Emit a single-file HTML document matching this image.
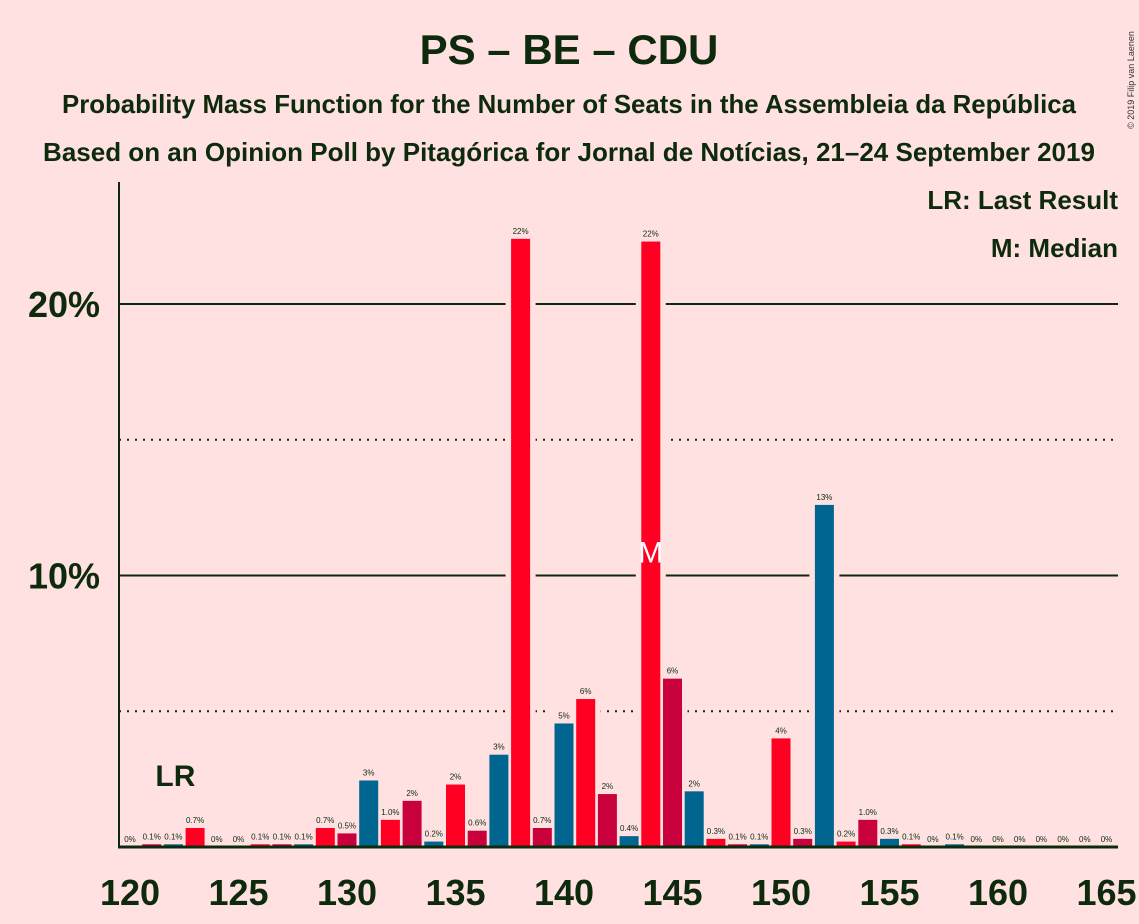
<!DOCTYPE html>
<html><head><meta charset="utf-8"><style>
body{margin:0;background:#FFE1E1;}
svg{display:block;font-family:"Liberation Sans",sans-serif;}
</style></head><body>
<svg id="c" width="1139" height="924">
<rect width="1139" height="924" fill="#FFE1E1"/>
<text x="569" y="64" text-anchor="middle" font-size="42" font-weight="bold" fill="#0d2a0d">PS – BE – CDU</text>
<text x="569" y="113" text-anchor="middle" font-size="25.8" font-weight="bold" fill="#0d2a0d">Probability Mass Function for the Number of Seats in the Assembleia da República</text>
<text x="569" y="161" text-anchor="middle" font-size="26" font-weight="bold" fill="#0d2a0d">Based on an Opinion Poll by Pitagórica for Jornal de Notícias, 21–24 September 2019</text>
<text x="1134" y="80" font-size="9" fill="#333" transform="rotate(-90 1134 80)" text-anchor="middle">© 2019 Filip van Laenen</text>
<text x="1118" y="209" text-anchor="end" font-size="26" font-weight="bold" fill="#0d2a0d">LR: Last Result</text>
<text x="1118" y="257" text-anchor="end" font-size="26" font-weight="bold" fill="#0d2a0d">M: Median</text>
<g id="grid"></g>
<g id="gaps"></g>
<g id="bars"></g>
<g id="axes"></g>
</svg>
<script>
const seats=[120,121,122,123,124,125,126,127,128,129,130,131,132,133,134,135,136,137,138,139,140,141,142,143,144,145,146,147,148,149,150,151,152,153,154,155,156,157,158,159,160,161,162,163,164,165];
const probs=[0,0.1,0.1,0.7,0,0,0.1,0.1,0.1,0.7,0.5,2.45,1.0,1.7,0.2,2.3,0.6,3.4,22.4,0.7,4.55,5.45,1.95,0.4,22.3,6.2,2.05,0.3,0.1,0.1,4.0,0.3,12.6,0.2,1.0,0.3,0.1,0,0.1,0,0,0,0,0,0,0];
const labels=["0%","0.1%","0.1%","0.7%","0%","0%","0.1%","0.1%","0.1%","0.7%","0.5%","3%","1.0%","2%","0.2%","2%","0.6%","3%","22%","0.7%","5%","6%","2%","0.4%","22%","6%","2%","0.3%","0.1%","0.1%","4%","0.3%","13%","0.2%","1.0%","0.3%","0.1%","0%","0.1%","0%","0%","0%","0%","0%","0%","0%"];
const xTicks=[120,125,130,135,140,145,150,155,160,165];
const yTicks=[5,10,15,20];
const lastResult=122, median=144;
const NS="http://www.w3.org/2000/svg";
const X=s=>130+(s-120)*21.7;
const Y=p=>847-p*27.15;
function mk(t,a,parent){const e=document.createElementNS(NS,t);for(const k in a)e.setAttribute(k,a[k]);parent.appendChild(e);return e;}
const grid=document.getElementById('grid'),gaps=document.getElementById('gaps'),bars=document.getElementById('bars'),axes=document.getElementById('axes');
yTicks.forEach(v=>{
  const major=v%10===0;
  const l=mk('line',{x1:119,x2:1118,y1:Y(v),y2:Y(v),stroke:'#0d2a0d','stroke-width':2,'stroke-dasharray':major?'none':'2,6'},grid);
  
  
  if(major){const t=mk('text',{x:100,y:Y(v)+13,'text-anchor':'end','font-size':36,'font-weight':'bold',fill:'#0d2a0d'},axes);t.textContent=v+'%';
  
  }
});
const cols=['#FF0022','#C8003C','#006690'];
seats.forEach((s,i)=>{
  const p=probs[i];
  if(p>0){
    const bg=mk('rect',{x:X(s)-15,y:Y(p)-14,width:30,height:847-Y(p)+14,fill:'#FFE1E1'},gaps);
    
    
    const r=mk('rect',{x:X(s)-9.5,y:Y(p),width:19,height:847-Y(p),fill:cols[s%3]},bars);
    
    
  }
  const t=mk('text',{x:X(s),y:Y(p)-5,'text-anchor':'middle','font-size':8,fill:'#0d2a0d'},bars);
  t.textContent=labels[i];
  
  
});
const m=mk('text',{x:X(median),y:Y(11)+14,'text-anchor':'middle','font-size':30,fill:'#fff'},bars);m.textContent='M';


const lr=mk('text',{x:X(lastResult)+2,y:786,'text-anchor':'middle','font-size':30,'font-weight':'bold',fill:'#0d2a0d'},bars);lr.textContent='LR';


const ya=mk('line',{x1:119,x2:119,y1:182,y2:848,stroke:'#0d2a0d','stroke-width':2},axes);


const xa=mk('line',{x1:118,x2:1118,y1:847,y2:847,stroke:'#0d2a0d','stroke-width':3},axes);


xTicks.forEach(s=>{const t=mk('text',{x:X(s),y:905,'text-anchor':'middle','font-size':36,'font-weight':'bold',fill:'#0d2a0d'},axes);t.textContent=s;

});
</script>
</body></html>
